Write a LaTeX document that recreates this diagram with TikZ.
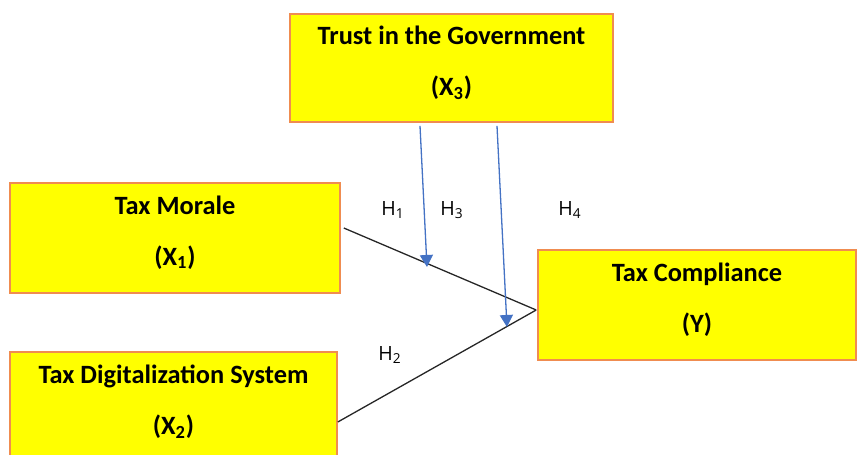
\documentclass[tikz,border=0pt]{standalone}
\usepackage{fontspec}
\setmainfont{Carlito}
\newfontfamily\hfont{Open Sans}
\usetikzlibrary{arrows.meta, positioning}
\definecolor{boxorange}{RGB}{240,140,80}
\definecolor{boxyellow}{RGB}{255,255,0}
\definecolor{arrowblue}{RGB}{68,114,196}

\begin{document}
\begin{tikzpicture}[x=0.5pt, y=-0.5pt]
        \tikzset{var/.style={draw=boxorange, fill=boxyellow, line width=0.8pt, align=center, inner sep=0pt,
                text depth=7.5pt, font=\fontsize{13.2}{25.5}\selectfont\bfseries}}
        \tikzset{hyp/.style={font=\hfont\fontsize{9.8}{11}\selectfont}}
        % Define looks of the paths
        \tikzstyle{link}=[draw=black!85, line width=0.65pt]
        \tikzstyle{moderate}=[draw=arrowblue, line width=0.65pt, -{Triangle[length=6pt,width=6.5pt]}]

        \useasboundingbox (0,0) rectangle (858,455);

        \node[var,minimum width=161.5pt,minimum height=54pt] (trust) at (451.5,68) {Trust in the Government\\(X\textsubscript{3})};
        \node[var,minimum width=165pt,minimum height=55pt] (morale) at (175,238) {Tax Morale\\(X\textsubscript{1})};
        \node[var,minimum width=163.5pt,minimum height=55pt] (digital) at (173.5,407) {Tax Digitalization System\\(X\textsubscript{2})};
        \node[var,minimum width=159pt,minimum height=55pt] (comply) at (697,305) {Tax Compliance\\(Y)};

        \coordinate (meet) at ([shift={(-1,5)}]comply.west);
        \coordinate (tip1) at (427,267);
        \coordinate (tip3) at (507,327);

        \path[link]
        ([shift={(3,-10)}]morale.east) -- (meet)
        ([shift={(0,15)}]digital.east) -- (meet);

        \path[moderate] ([shift={(-31.5,3)}]trust.south) -- (tip1);
        \path[moderate] ([shift={(45.5,3)}]trust.south) -- (tip3);

        \node[hyp] (h1) at (393,210) {H\textsubscript{1}};
        \node[hyp] (h3) at (452,210) {H\textsubscript{3}};
        \node[hyp] (h4) at (570,210) {H\textsubscript{4}};
        \node[hyp] (h2) at (390,355) {H\textsubscript{2}};
    \end{tikzpicture}
\end{document}
